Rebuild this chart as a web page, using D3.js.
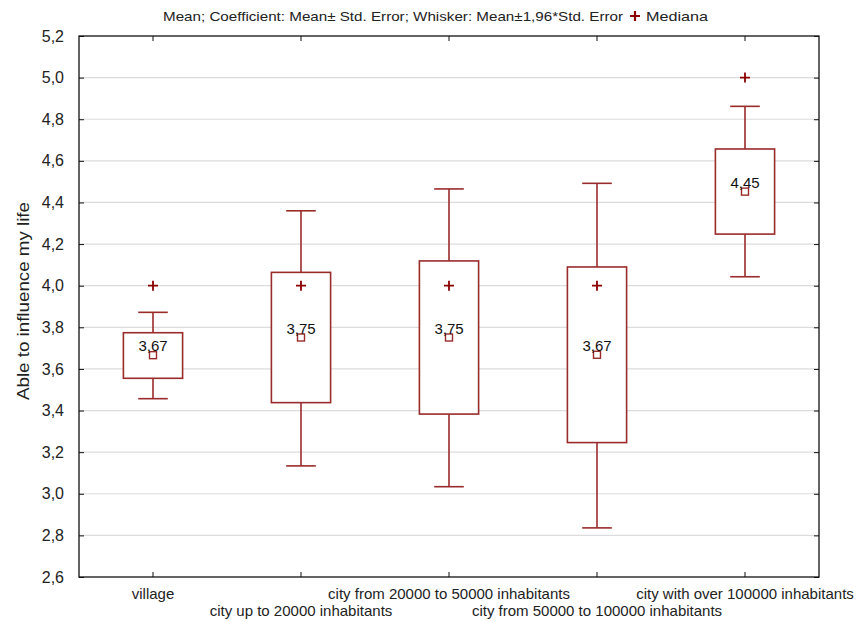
<!DOCTYPE html>
<html>
<head>
<meta charset="utf-8">
<script src="https://cdn.jsdelivr.net/npm/d3@7"></script>
<style>
  html, body { margin: 0; padding: 0; background: #fff; }
  svg { display: block; font-family: "Liberation Sans", Arial, sans-serif; }
</style>
</head>
<body>
<svg id="chart" width="856" height="621"></svg>
<script>
// Groups by place of residence
const categories = [
  "village",
  "city up to 20000 inhabitants",
  "city from 20000 to 50000 inhabitants",
  "city from 50000 to 100000 inhabitants",
  "city with over 100000 inhabitants"
];
// Mean of "Able to influence my life"
const means = [3.666, 3.751, 3.751, 3.668, 4.452];
// Box: mean ± standard error
const boxLow = [3.555, 3.438, 3.383, 3.246, 4.248];
const boxHigh = [3.774, 4.064, 4.119, 4.090, 4.657];
// Whiskers: mean ± 1.96 * standard error
const whiskerLow = [3.457, 3.134, 3.034, 2.836, 4.043];
const whiskerHigh = [3.872, 4.360, 4.465, 4.492, 4.862];
// Medians
const medians = [4.0, 4.0, 4.0, 4.0, 5.0];
// Y axis ticks
const yTicks = [2.6, 2.8, 3.0, 3.2, 3.4, 3.6, 3.8, 4.0, 4.2, 4.4, 4.6, 4.8, 5.0, 5.2];

const svg = d3.select("#chart");
const plotLeft = 79, plotRight = 819, plotTop = 36, plotBottom = 577;
const boxColor = "#9a2b2b";
const medianColor = "#8b0000";

const x = d3.scaleBand().domain(categories).range([plotLeft, plotRight]).padding(0);
const y = d3.scaleLinear().domain([2.6, 5.2]).range([plotBottom, plotTop]);
const comma = v => d3.format(".1f")(v).replace(".", ",");
const commaLabel = v => d3.format(".2f")(v).replace(".", ",");
const cx = c => x(c) + x.bandwidth() / 2;

// Horizontal grid lines
svg.append("g")
  .selectAll("line")
  .data(yTicks.slice(1, -1))
  .join("line")
  .attr("x1", plotLeft).attr("x2", plotRight)
  .attr("y1", d => y(d)).attr("y2", d => y(d))
  .attr("stroke", "#dcdcdc").attr("stroke-width", 1.2);

// Left axis with inward ticks
const yAxis = svg.append("g")
  .attr("transform", `translate(${plotLeft},0)`)
  .call(d3.axisLeft(y).tickValues(yTicks).tickFormat(comma).tickSizeInner(-5).tickSizeOuter(0).tickPadding(15));
yAxis.select(".domain").remove();
yAxis.selectAll("text").attr("font-size", 16).attr("fill", "#222").attr("font-family", "Liberation Sans, Arial, sans-serif");
yAxis.selectAll("line").attr("stroke", "#111");

// Right axis ticks (inward, no labels)
const yAxisR = svg.append("g")
  .attr("transform", `translate(${plotRight},0)`)
  .call(d3.axisRight(y).tickValues(yTicks).tickFormat("").tickSizeInner(-5).tickSizeOuter(0));
yAxisR.select(".domain").remove();
yAxisR.selectAll("line").attr("stroke", "#111");

// Bottom axis ticks (inward) and staggered category labels
const xAxis = svg.append("g")
  .attr("transform", `translate(0,${plotBottom})`)
  .call(d3.axisBottom(x).tickSizeInner(-5).tickSizeOuter(0).tickFormat(""));
xAxis.select(".domain").remove();
xAxis.selectAll("line").attr("stroke", "#111");

svg.append("g")
  .selectAll("text")
  .data(categories)
  .join("text")
  .attr("x", d => cx(d))
  .attr("y", (d, i) => i % 2 === 0 ? 599 : 616)
  .attr("text-anchor", "middle")
  .attr("font-size", 15)
  .attr("fill", "#222")
  .text(d => d);

// Top axis ticks (inward)
const xAxisT = svg.append("g")
  .attr("transform", `translate(0,${plotTop})`)
  .call(d3.axisTop(x).tickSizeInner(-5).tickSizeOuter(0).tickFormat(""));
xAxisT.select(".domain").remove();
xAxisT.selectAll("line").attr("stroke", "#111");

// Plot frame
svg.append("rect")
  .attr("x", plotLeft).attr("y", plotTop)
  .attr("width", plotRight - plotLeft).attr("height", plotBottom - plotTop)
  .attr("fill", "none").attr("stroke", "#111").attr("stroke-width", 1.3);

// Box plots
const boxW = x.bandwidth() * 0.4;
const capW = x.bandwidth() * 0.2;
const groups = svg.append("g")
  .selectAll("g")
  .data(categories.map((c, i) => ({ c, i })))
  .join("g");

groups.append("line") // lower whisker
  .attr("x1", d => cx(d.c)).attr("x2", d => cx(d.c))
  .attr("y1", d => y(boxLow[d.i])).attr("y2", d => y(whiskerLow[d.i]))
  .attr("stroke", boxColor).attr("stroke-width", 1.6);
groups.append("line") // upper whisker
  .attr("x1", d => cx(d.c)).attr("x2", d => cx(d.c))
  .attr("y1", d => y(boxHigh[d.i])).attr("y2", d => y(whiskerHigh[d.i]))
  .attr("stroke", boxColor).attr("stroke-width", 1.6);
groups.append("line") // lower cap
  .attr("x1", d => cx(d.c) - capW / 2).attr("x2", d => cx(d.c) + capW / 2)
  .attr("y1", d => y(whiskerLow[d.i])).attr("y2", d => y(whiskerLow[d.i]))
  .attr("stroke", boxColor).attr("stroke-width", 1.6);
groups.append("line") // upper cap
  .attr("x1", d => cx(d.c) - capW / 2).attr("x2", d => cx(d.c) + capW / 2)
  .attr("y1", d => y(whiskerHigh[d.i])).attr("y2", d => y(whiskerHigh[d.i]))
  .attr("stroke", boxColor).attr("stroke-width", 1.6);
groups.append("rect") // box
  .attr("x", d => cx(d.c) - boxW / 2)
  .attr("y", d => y(boxHigh[d.i]))
  .attr("width", boxW)
  .attr("height", d => y(boxLow[d.i]) - y(boxHigh[d.i]))
  .attr("fill", "#fff").attr("stroke", boxColor).attr("stroke-width", 1.6);

// Median markers (+)
groups.append("path")
  .attr("d", d => {
    const px = cx(d.c), py = y(medians[d.i]);
    return `M${px - 5},${py}H${px + 5}M${px},${py - 5}V${py + 5}`;
  })
  .attr("stroke", medianColor).attr("stroke-width", 1.8).attr("fill", "none");

// Mean markers (open square)
groups.append("rect")
  .attr("x", d => cx(d.c) - 3.5).attr("y", d => y(means[d.i]) - 3.5)
  .attr("width", 7).attr("height", 7)
  .attr("fill", "#fff").attr("stroke", boxColor).attr("stroke-width", 1.4);

// Mean value labels
groups.append("text")
  .attr("x", d => cx(d.c))
  .attr("y", d => y(means[d.i]) - 4)
  .attr("text-anchor", "middle")
  .attr("font-size", 15)
  .attr("fill", "#111")
  .text(d => commaLabel(means[d.i]));

// Y axis title
svg.append("text")
  .attr("transform", "translate(29,301) rotate(-90)")
  .attr("text-anchor", "middle")
  .attr("font-size", 17)
  .attr("textLength", 198)
  .attr("lengthAdjust", "spacingAndGlyphs")
  .attr("fill", "#222")
  .text("Able to influence my life");

// Title with median legend
const titleG = svg.append("g").attr("font-size", 13).attr("fill", "#222");
titleG.append("text")
  .attr("x", 163).attr("y", 21)
  .attr("textLength", 460)
  .attr("lengthAdjust", "spacingAndGlyphs")
  .text("Mean; Coefficient: Mean± Std. Error; Whisker: Mean±1,96*Std. Error");
titleG.append("path")
  .attr("d", "M630,16H640M635,11V21")
  .attr("stroke", medianColor).attr("stroke-width", 2.2).attr("fill", "none");
titleG.append("text")
  .attr("x", 646).attr("y", 21)
  .attr("textLength", 62)
  .attr("lengthAdjust", "spacingAndGlyphs")
  .text("Mediana");
</script>
</body>
</html>
